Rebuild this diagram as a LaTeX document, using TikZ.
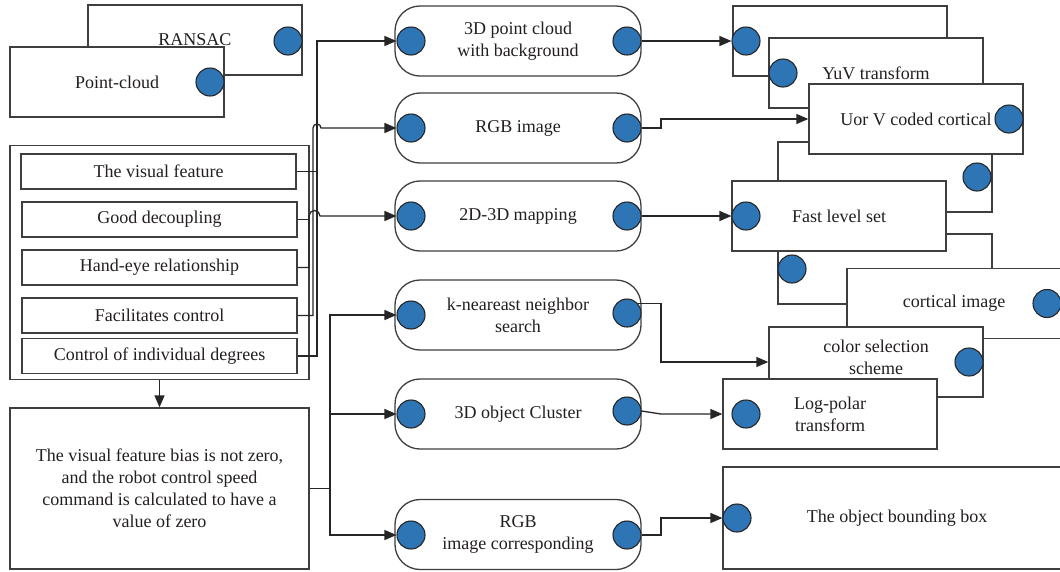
\documentclass[tikz,border=0pt]{standalone}
\usepackage{fontspec}
\setmainfont{Liberation Serif}
\usetikzlibrary{arrows.meta,calc}
\definecolor{dotblue}{RGB}{46,117,182}
\definecolor{edgegray}{RGB}{62,62,62}
\definecolor{inkgray}{RGB}{35,31,32}
\begin{document}
\begin{tikzpicture}[x=1pt,y=-1pt,
  font=\fontsize{18}{22}\selectfont, text=inkgray,
  box/.style={draw=edgegray, line width=1.3pt, fill=white, inner sep=0pt, align=center},
  rbox/.style={box, rounded corners=25pt, minimum width=246pt, minimum height=70pt},
  sbox/.style={box, minimum width=214pt, minimum height=70pt},
  ibox/.style={box, minimum width=275pt, minimum height=35pt},
  dot/.style={circle, draw=black!85, line width=1.1pt, fill=dotblue, minimum size=28pt, inner sep=0pt},
  wire/.style={draw=black!85, line width=1.3pt},
  arr/.style={wire, -{Triangle[length=12pt,width=10pt]}},
]
\useasboundingbox (0,0) rectangle (1060,571);

% ---------- top-left stack ----------
\node[sbox] (ransac) at (195,40) {RANSAC};
\node[dot] (ransacd) at (288,41) {};
\node[sbox] (pcloud) at (117,82) {Point-cloud};
\node[dot] (pcloudd) at (210,82) {};

% ---------- feature container ----------
\node[box, minimum width=299pt, minimum height=234pt] (feat) at (159.5,262.5) {};
\node[ibox] (vf) at (158.5,171.5) {The visual feature};
\node[ibox] (gd) at (159.5,219.5) {Good decoupling};
\node[ibox] (he) at (159.5,267.5) {Hand-eye relationship};
\node[ibox] (fc) at (159.5,315.5) {Facilitates control};
\node[ibox] (ci) at (159.5,356) {Control of individual degrees};

\node[box, minimum width=299pt, minimum height=161pt] (bias) at (159.5,488.5)
  {The visual feature bias is not zero,\\ and the robot control speed\\ command is calculated to have a\\ value of zero};
\draw[arr] (feat.south) -- (bias.north);

% ---------- middle column ----------
\node[rbox] (m1) at (518,41) {3D point cloud\\with background};
\node[rbox] (m2) at (518,128) {RGB image};
\node[rbox] (m3) at (518,216) {2D-3D mapping};
\node[rbox] (m4) at (518,315) {k-neareast neighbor\\search};
\node[rbox] (m5) at (518,414) {3D object Cluster};
\node[rbox] (m6) at (518,534.5) {RGB\\image corresponding};
\node[dot] (m1l) at (411,41) {};   \node[dot] (m1r) at (627,41) {};
\node[dot] (m2l) at (411,128) {};  \node[dot] (m2r) at (627,128) {};
\node[dot] (m3l) at (411,216) {};  \node[dot] (m3r) at (627,216) {};
\node[dot] (m4l) at (411,315) {};  \node[dot] (m4r) at (627,313) {};
\node[dot] (m5l) at (411,414) {};  \node[dot] (m5r) at (627,411) {};
\node[dot] (m6l) at (411,535) {};  \node[dot] (m6r) at (627,535) {};

% ---------- right stacks ----------
\node[sbox] (r1) at (840,41) {};
\node[dot] (r1d) at (746,41) {};
\node[sbox] (r2) at (876,73) {YuV transform};
\node[dot] (r2d) at (783,73) {};
\node[sbox] (r4) at (885,177) {};
\node[dot] (r4d) at (977,177) {};
\node[sbox] (r3) at (916,119) {Uor V coded cortical};
\node[dot] (r3d) at (1009,119) {};
\node[sbox] (r6) at (885,269) {};
\node[dot] (r6d) at (792,269) {};
\node[sbox] (r5) at (839,216) {Fast level set};
\node[dot] (r5d) at (746,216) {};
\node[sbox] (r7) at (954,303.5) {cortical image};
\node[dot] (r7d) at (1047,303.5) {};
\node[sbox] (r8) at (876,362) {color selection\\scheme\rule[-10pt]{0pt}{10pt}};
\node[dot] (r8d) at (969,362) {};
\node[sbox] (r9) at (830,414) {Log-polar\\transform};
\node[dot] (r9d) at (746,414) {};
\node[box, minimum width=348pt, minimum height=102pt] (r10) at (897,518) {The object bounding box};
\node[dot] (r10d) at (737,518) {};

% ---------- bus coordinates ----------
\coordinate (busA) at (317,0);
\coordinate (busB) at (313,0);
\coordinate (busC) at (309,0);
\coordinate (busD) at (330,0);
\coordinate (jx) at (661,0);

% ---------- left feature wiring ----------
\draw[wire] (vf.east) -- (vf.east -| busA);
\draw[arr] (ci.east) -- (ci.east -| busA) |- (m1l);
\draw[arr] (fc.east) -- (fc.east -| busB) -- (busB |- m2l)
  arc[start angle=180, end angle=0, radius=4pt] -- (m2l);
\draw[wire] (gd.east) -- (gd.east -| busC);
\draw[arr] (he.east) -- (he.east -| busC) -- (busC |- m3l)
  arc[start angle=180, end angle=0, radius=5.5pt] -- (m3l);

% ---------- bottom wiring ----------
\draw[wire] (bias.east) -- (bias.east -| busD);
\draw[arr] (bias.east -| busD) |- (m4l);
\draw[arr] (bias.east -| busD) |- (m5l);
\draw[arr] (bias.east -| busD) |- (m6l);

% ---------- right wiring ----------
\draw[arr] (m1r) -- (r1d);
\draw[arr] (m2r.east) -- (m2r.east -| jx) -- (jx |- r3.west) -- (r3.west);
\draw[arr] (m3r) -- (r5d);
\draw[arr] (m4r.40) -- (m4r.40 -| jx) -- (jx |- r8.west) -- (r8.west);
\draw[arr] (m5r.east) -- (jx |- r9.west) -- (r9.west);
\draw[arr] (m6r.east) -- (m6r.east -| jx) -- (jx |- r10d) -- (r10d);
\end{tikzpicture}
\end{document}
